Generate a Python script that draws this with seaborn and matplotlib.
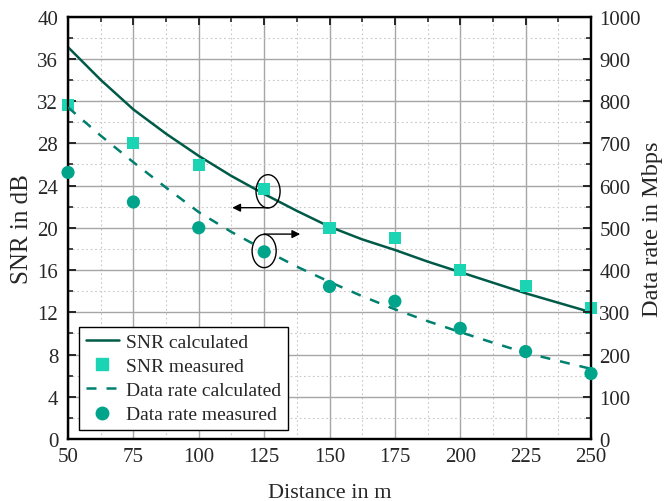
import matplotlib
matplotlib.use("Agg")
import matplotlib.pyplot as plt
import seaborn as sns
import pandas as pd
from matplotlib.patches import Ellipse
from matplotlib.ticker import MultipleLocator
from matplotlib.lines import Line2D

# Calculated curves (distance in m)
dist_calc = [50, 62.5, 75, 87.5, 100, 112.5, 125, 137.5, 150, 162.5, 175,
             187.5, 200, 212.5, 225, 237.5, 250]
snr_calc = [37.1, 34.0, 31.2, 28.9, 26.8, 24.9, 23.2, 21.6, 20.1, 18.9, 17.9,
            16.8, 15.8, 14.8, 13.8, 12.9, 12.0]
rate_calc = [785, 718, 655, 595, 537, 490, 448, 408, 372, 338, 307,
             279, 253, 228, 204, 185, 166]

# Measurements
dist_meas = [50, 75, 100, 125, 150, 175, 200, 225, 250]
snr_meas = [31.6, 28.0, 25.9, 23.7, 20.0, 19.0, 16.0, 14.5, 12.4]
rate_meas = [631, 561, 500, 443, 361, 326, 262, 207, 155]

c_snr_line = "#005a48"
c_snr_pts = "#1ad4b4"
c_rate_line = "#00806e"
c_rate_pts = "#00a48a"

sns.set_style("white")
plt.rcParams["font.family"] = ["Liberation Serif", "DejaVu Serif"]

calc = pd.DataFrame({"d": dist_calc, "snr": snr_calc, "rate": rate_calc})
meas = pd.DataFrame({"d": dist_meas, "snr": snr_meas, "rate": rate_meas})

fig = plt.figure(figsize=(6.65, 5.02), dpi=100)
ax = fig.add_axes([0.1023, 0.1235, 0.7864, 0.8416])
ax2 = ax.twinx()

sns.lineplot(data=calc, x="d", y="snr", ax=ax, color=c_snr_line, lw=1.8,
             zorder=3, legend=False)
sns.scatterplot(data=meas, x="d", y="snr", ax=ax, color=c_snr_pts, marker="s",
                s=75, edgecolor="none", zorder=4, clip_on=False, legend=False)
sns.lineplot(data=calc, x="d", y="rate", ax=ax2, color=c_rate_line, lw=1.8,
             zorder=3, legend=False)
ax2.lines[0].set_linestyle((0, (4, 4)))
sns.scatterplot(data=meas, x="d", y="rate", ax=ax2, color=c_rate_pts, marker="o",
                s=90, edgecolor="none", zorder=4, clip_on=False, legend=False)

ax.set_xlim(50, 250)
ax.set_ylim(0, 40)
ax2.set_ylim(0, 1000)

ax.xaxis.set_major_locator(MultipleLocator(25))
ax.xaxis.set_minor_locator(MultipleLocator(12.5))
ax.yaxis.set_major_locator(MultipleLocator(4))
ax.yaxis.set_minor_locator(MultipleLocator(2))
ax2.yaxis.set_major_locator(MultipleLocator(100))
ax2.yaxis.set_minor_locator(MultipleLocator(50))

ax.grid(which="major", color="#a6a6a6", lw=1.0, ls="-", zorder=0)
ax.grid(which="minor", color="#c8c8c8", lw=0.8, ls=(0, (1.5, 2.5)), zorder=0)
ax.set_axisbelow(True)
ax2.grid(False)

for a in (ax, ax2):
    for sp in a.spines.values():
        sp.set_color("black")
        sp.set_linewidth(1.6)
ax.tick_params(axis="x", which="major", direction="in", length=6, width=1.4,
               labelsize=15, top=True, pad=6)
ax.tick_params(axis="y", which="major", direction="in", length=6, width=1.4,
               labelsize=15, right=False, pad=7)
ax.tick_params(axis="both", which="minor", direction="in", length=3.5, width=1.2,
               top=True, right=False)
ax2.tick_params(axis="y", which="major", direction="in", length=6, width=1.4,
                labelsize=15, pad=6)
ax2.tick_params(axis="y", which="minor", direction="in", length=3.5, width=1.2)

ax.set_xlabel("Distance in m", fontsize=16, labelpad=12)
ax.set_ylabel("SNR in dB", fontsize=18, labelpad=3)
ax2.set_ylabel("Data rate in Mbps", fontsize=17.5, labelpad=1)

# Markers showing which axis each curve belongs to
ax.add_patch(Ellipse((126.5, 23.45), 9.2, 3.15, fill=False, ec="black",
                     lw=1.0, zorder=6))
ax.add_patch(Ellipse((125.0, 17.8), 9.2, 3.15, fill=False, ec="black",
                     lw=1.0, zorder=6))
ax.annotate("", xy=(112.8, 21.9), xytext=(126.5, 21.9),
            arrowprops=dict(arrowstyle="-|>", color="black", lw=1.0,
                            mutation_scale=12, shrinkA=0, shrinkB=0), zorder=6)
ax.annotate("", xy=(138.8, 19.4), xytext=(125.0, 19.4),
            arrowprops=dict(arrowstyle="-|>", color="black", lw=1.0,
                            mutation_scale=12, shrinkA=0, shrinkB=0), zorder=6)

handles = [
    Line2D([], [], color=c_snr_line, lw=1.8),
    Line2D([], [], color=c_snr_pts, marker="s", ls="none", markersize=8),
    Line2D([], [], color=c_rate_line, lw=1.8, ls=(0, (4, 4))),
    Line2D([], [], color=c_rate_pts, marker="o", ls="none", markersize=9),
]
labels = ["SNR calculated", "SNR measured", "Data rate calculated",
          "Data rate measured"]
leg = ax2.legend(handles, labels, loc="lower left", bbox_to_anchor=(0.021, 0.021),
                 fontsize=14, frameon=True, fancybox=False, edgecolor="black",
                 framealpha=1, handlelength=1.7, handletextpad=0.35,
                 borderpad=0.35, labelspacing=0.33, borderaxespad=0.0)
leg.get_frame().set_linewidth(1.0)
leg.set_zorder(10)

fig.savefig("out.png", dpi=100)
